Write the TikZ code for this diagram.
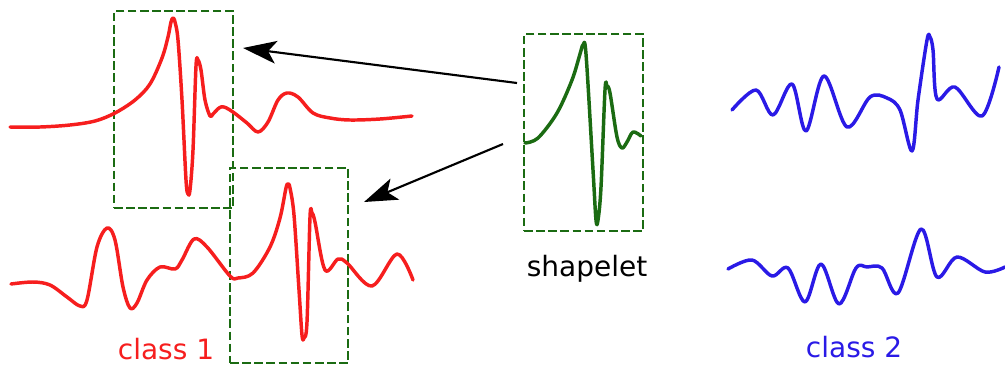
\documentclass[tikz,border=0pt]{standalone}
\usepackage{fontspec}
\setmainfont{DejaVu Sans}
\usetikzlibrary{arrows.meta}
\definecolor{cred}{HTML}{F61E1E}
\definecolor{cblue}{HTML}{2A1AE6}
\definecolor{cgreen}{HTML}{1B6B12}
\tikzset{
  sig/.style={line width=2.6pt, line join=round, line cap=round},
  shpbox/.style={draw=cgreen, line width=1.8pt, dash pattern=on 6.5pt off 2.6pt, rectangle, inner sep=0pt},
  lbl/.style={font=\fontsize{21}{24}\selectfont, inner sep=0pt, anchor=base},
  arr/.style={line width=1.6pt, -{Stealth[length=25pt, width=17pt, inset=6pt]}},
}
\begin{document}
\begin{tikzpicture}[x=0.75pt, y=-0.75pt]
\useasboundingbox (0,0) rectangle (1005,365);
% boxes
\node[shpbox, minimum width=89.25pt, minimum height=147.75pt] (b1) at (173.5,109.5) {};
\node[shpbox, minimum width=88.5pt, minimum height=146.25pt] (b2) at (289,265.5) {};
\node[shpbox, minimum width=89.25pt, minimum height=147.75pt] (bs) at (583.5,132.5) {};
% red curve 1
\draw[sig, cred] plot[smooth, tension=0.55] coordinates {
(10,127) (40,127) (70,125) (95,121) (115,113) (135,100) (150,84) (162,58) (168,37) (171,22) (173,18) (175,22) (178,40) (182,100) (186,180) (188,194) (190,190) (193,150) (196,66) (198,60) (201,70) (205,100) (210,116) (213,114) (219,108) (224,107) (233,112) (247,123) (258,132) (268,122) (278,100) (287,93) (298,97) (313,113) (330,118) (350,120) (380,119) (412,116)};
% red curve 2
\draw[sig, cred] plot[smooth, tension=0.55] coordinates {
(11,284) (33,282) (50,285) (67,297) (80,306) (87,300) (97,247) (107,228) (115,240) (123,287) (130,308) (137,303) (147,280) (160,267) (175,269) (182,260) (194,239) (207,247) (230,276) (238,278) (253,273) (270,247) (280,218) (286,188) (288,184) (290,188) (294,215) (299,290) (302,335) (304,338) (307,322) (310,217) (312,213) (315,222) (325,270) (338,259) (347,263) (372,286) (397,254) (413,280)};
% green shapelet
\draw[sig, cgreen] plot[smooth, tension=0.55] coordinates {
(525,143) (538,138) (557,113) (572,80) (580,54) (583,45) (586,54) (593,170) (596,220) (598,220) (601,187) (605,90) (607,86) (610,93) (617,137) (622,148) (627,142) (633,132) (641,136)};
% blue curve 1
\draw[sig, cblue] plot[smooth, tension=0.55] coordinates {
(732,110) (756,90) (773,115) (792,84) (806,131) (824,76) (847,127) (870,97) (887,98) (900,110) (912,151) (918,100) (927,40) (930,37) (933,50) (937,99) (955,87) (982,116) (999,67)};
% blue curve 2
\draw[sig, cblue] plot[smooth, tension=0.55] coordinates {
(728,269) (752,260) (772,276) (788,268) (805,302) (821,264) (839,304) (856,268) (867,267) (882,268) (898,293) (921,229) (937,277) (957,257) (985,272) (1005,267)};
% labels
\node[lbl, cred] (c1) at (166,359) {class 1};
\node[lbl] (sl) at (587,276) {shapelet};
\node[lbl, cblue] (c2) at (854,357) {class 2};
% arrows
\coordinate (a1s) at (517,83);
\coordinate (a1e) at (243,48);
\coordinate (a2s) at (503,144);
\coordinate (a2e) at (364,202);
\draw[arr] (a1s) -- (a1e);
\draw[arr] (a2s) -- (a2e);
\end{tikzpicture}
\end{document}
